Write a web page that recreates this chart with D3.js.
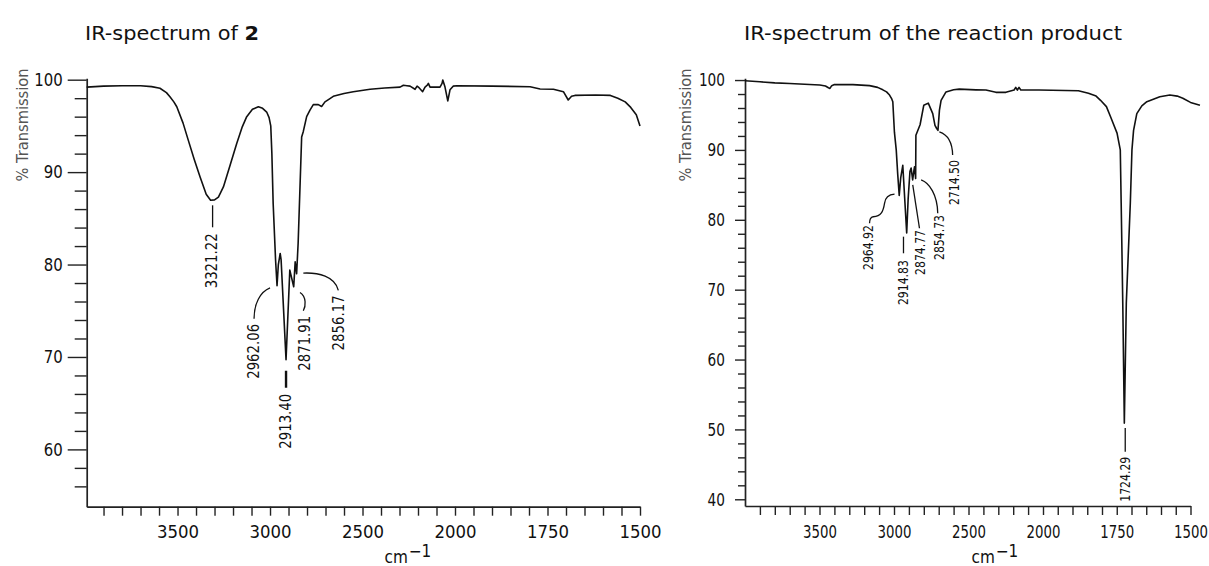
<!DOCTYPE html>
<html><head><meta charset="utf-8">
<script src="https://cdn.jsdelivr.net/npm/d3@7"></script>
<style>
body{margin:0;background:#fff;}
svg{display:block;}
text{font-family:"DejaVu Sans",sans-serif;fill:#111;}
</style></head><body>
<svg id="chart" width="1209" height="566"></svg>
<script>
// ---------- DATA ----------
const wnLeft = [3991,3900,3800,3700,3640,3595,3560,3541,3520,3504,3470,3442,3410,3378,3345,3321.22,3300,3279,3252,3215,3180,3150,3126,3095,3063,3040,3018,3005,2996,2990,2983,2970,2962.06,2955,2945,2940,2913.40,2893,2871.91,2864,2856.17,2848,2829,2820,2802,2784,2766,2739,2721,2703,2680,2658,2600,2550,2459,2380,2297,2279,2260,2243,2216,2205,2198,2175,2162,2150,2144,2135,2110,2081,2070,2066,2054,2039,2027,2010,1995,1900,1797,1770,1734,1707,1694,1685,1676,1620,1580,1560,1540,1525,1510,1500];
const tLeft  = [99.2,99.3,99.35,99.35,99.25,99.07,98.6,98.16,97.6,97.07,95.3,93.46,91.4,89.48,87.6,86.95,87.0,87.3,88.4,90.8,93.1,94.9,96.0,96.8,97.07,96.9,96.5,95.9,95.0,92.0,86.6,80.5,77.7,80.0,81.2,80.5,69.7,79.4,77.6,80.3,79.0,82.3,93.8,94.4,96.0,96.7,97.3,97.3,97.1,97.6,97.9,98.2,98.5,98.7,98.96,99.1,99.2,99.4,99.35,99.3,98.96,99.3,99.2,98.7,99.2,99.4,99.6,99.2,99.2,99.2,99.6,99.97,99.2,97.7,98.9,99.3,99.35,99.3,99.24,99.0,98.96,98.7,97.8,98.2,98.3,98.35,98.3,98.0,97.6,97.0,96.2,95.0];

const wnRight = [4000,3900,3800,3700,3600,3498,3460,3440,3430,3418,3400,3276,3164,3110,3075,3050,3030,3015,3008,2997,2985,2975,2964.92,2955,2941,2914.83,2905,2893,2885,2874.77,2866,2862,2854.73,2853,2825,2800,2770,2740,2725,2714.50,2705,2695,2684,2651,2600,2562,2450,2383,2316,2249,2194,2183,2172,2161,2149,2116,2027,1880,1846,1820,1805,1785,1771,1749,1738,1735,1729.6,1724.29,1717.6,1704,1698.5,1693,1682,1665,1648,1604,1570,1545,1526,1500,1468];
const tRight  = [99.9,99.75,99.6,99.5,99.4,99.3,99.15,98.9,98.8,99.2,99.35,99.35,99.2,98.95,98.6,98.3,97.85,97.3,96.9,92.5,90.0,86.5,83.5,86.0,87.8,78.1,83.0,86.9,87.4,85.7,87.1,87.6,85.9,92.1,93.6,96.4,96.7,95.2,93.5,93.1,92.8,95.7,97.1,98.3,98.6,98.7,98.6,98.57,98.24,98.24,98.57,98.95,98.57,98.95,98.57,98.57,98.57,98.47,98.1,97.7,97.1,96.2,94.75,92.4,90.0,82.4,68.1,50.9,68.1,82.4,90.0,92.8,95.2,96.3,96.9,97.6,97.85,97.7,97.4,96.8,96.4];

const peaksLeft  = [3321.22, 2962.06, 2913.40, 2871.91, 2856.17];
const peakTLeft  = [86.95, 77.7, 69.7, 77.6, 79.0];
const peaksRight = [2964.92, 2914.83, 2874.77, 2854.73, 2714.50, 1724.29];
const peakTRight = [83.5, 78.1, 85.7, 85.9, 93.1, 50.9];

const xTickLabels   = [3500, 3000, 2500, 2000, 1750, 1500];
const yTickLabelsL  = [60, 70, 80, 90, 100];
const yTickLabelsR  = [40, 50, 60, 70, 80, 90, 100];
const titleLeft  = ["IR-spectrum of ", "2"];
const titleRight = "IR-spectrum of the reaction product";
const yTitle = "% Transmission";
const xTitle = ["cm", "\u22121"];

// ---------- LAYOUT ----------
const svg = d3.select("#chart");

// horizontally condense text around its anchor x (keeps true bounding box)
function squeeze(sel, k) {
  sel.each(function () {
    const x0 = +(this.getAttribute("x") || 0);
    this.setAttribute("transform", `translate(${(x0 * (1 - k)).toFixed(2)},0) scale(${k},1)`);
  });
}
function fitLen(sel, len) {
  sel.attr("textLength", len).attr("lengthAdjust", "spacingAndGlyphs");
}

const panels = [
  {
    wn: wnLeft, t: tLeft, peaks: peaksLeft, peakT: peakTLeft, yLabels: yTickLabelsL,
    xDomain: [3991, 2000, 1500], xRange: [86.7, 455, 640],
    yDomain: [53.8, 100.15], yRange: [506.7, 78.3], yMin: 56,
    yMajor: 19, yMinor: 12, yPad: 5, yFont: 18, yK: 0.83,
    xTick: 9, xPad: 10, xFont: 18, xK: 0.92,
    annFont: 16, annLen: 55,
    yTitleX: 22, xTitleX: 408,
    ann: [
      {path: "M2,5 L2,27", dx: 1, dy: 33},
      {path: "M-7,2 C-17,6 -23,18 -23,33", dx: -23.7, dy: 38},
      {path: "M0,11 L0,28", dx: -1, dy: 34, w: 2.4},
      {path: "M6.3,5.8 C13,10 12,20 9.6,24", dx: 10.3, dy: 29},
      {path: "M6.7,-0.7 C21.4,-1.4 38.4,2.6 41.7,16.6", dx: 41.7, dy: 21.6}
    ]
  },
  {
    wn: wnRight, t: tRight, peaks: peaksRight, peakT: peakTRight, yLabels: yTickLabelsR,
    xDomain: [4000, 2000, 1500], xRange: [745, 1043, 1190.5],
    yDomain: [39.04, 100.25], yRange: [506, 78.3], yMin: 40,
    yMajor: 10, yMinor: 7, yPad: 10, yFont: 18, yK: 0.76,
    xTick: 9, xPad: 10, xFont: 18, xK: 0.74,
    annFont: 14, annLen: 45,
    yTitleX: 685, xTitleX: 995,
    ann: [
      {path: "M-4.7,-1.3 C-10,-1 -14,2 -14.7,8 C-16,16 -18,21 -26,21.4 C-28.5,22 -29.7,25 -29.7,28", dx: -31.4, dy: 29.7},
      {path: "M-3.2,3.6 L-3.2,20.2", dx: -3.9, dy: 27},
      {path: "M0.1,5 L6.8,48.3", dx: 6.8, dy: 50},
      {path: "M5.5,1.4 C13.8,4.4 21.8,16.4 22.1,34.7", dx: 23.8, dy: 36.4},
      {path: "M2.8,3.5 C9.8,5.8 15.8,11.8 16.1,26.8", dx: 17.8, dy: 31.8},
      {path: "M0.9,4.9 L0.9,28.6", dx: 0.9, dy: 33.6}
    ]
  }
];

panels.forEach(cfg => {
  const x = d3.scaleLinear().domain(cfg.xDomain).range(cfg.xRange);
  const y = d3.scaleLinear().domain(cfg.yDomain).range(cfg.yRange);
  const g = svg.append("g");

  // x axis
  const xt = d3.range(3900, 1999, -100).concat(d3.range(1950, 1499, -50));
  const xAxis = d3.axisBottom(x).tickValues(xt).tickSize(cfg.xTick).tickSizeOuter(0)
    .tickPadding(cfg.xPad).tickFormat(d => xTickLabels.includes(d) ? String(d) : "");
  const gx = g.append("g").attr("transform", `translate(0,${cfg.yRange[0]})`).call(xAxis);
  gx.attr("font-family", null).attr("font-size", null);
  gx.select(".domain").attr("stroke", "#222").attr("stroke-width", 1.7);
  gx.selectAll(".tick line").attr("stroke", "#222").attr("stroke-width", 1.4);
  const xtx = gx.selectAll(".tick text").attr("font-size", cfg.xFont).attr("fill", "#111");
  squeeze(xtx, cfg.xK);

  // y axis
  const yt = d3.range(cfg.yMin, 100.01, 2);
  const yAxis = d3.axisLeft(y).tickValues(yt).tickSize(cfg.yMajor).tickSizeOuter(0)
    .tickPadding(cfg.yPad).tickFormat(d => cfg.yLabels.includes(d) ? String(d) : "");
  const gy = g.append("g").attr("transform", `translate(${cfg.xRange[0]},0)`).call(yAxis);
  gy.attr("font-family", null).attr("font-size", null);
  gy.select(".domain").attr("stroke", "#222").attr("stroke-width", 1.7);
  gy.selectAll(".tick line").attr("stroke", "#222").attr("stroke-width", 1.4)
    .attr("x2", d => cfg.yLabels.includes(d) ? -cfg.yMajor : -cfg.yMinor);
  const ytx = gy.selectAll(".tick text").attr("font-size", cfg.yFont).attr("fill", "#111");
  squeeze(ytx, cfg.yK);

  // spectrum line
  const pts = cfg.wn.map((w, i) => [w, cfg.t[i]]);
  g.append("path").datum(pts)
    .attr("fill", "none").attr("stroke", "#111").attr("stroke-width", 1.6)
    .attr("stroke-linejoin", "round")
    .attr("d", d3.line().x(d => x(d[0])).y(d => y(d[1])));

  // peak annotations
  cfg.peaks.forEach((p, i) => {
    const px = x(p), py = y(cfg.peakT[i]);
    const a = cfg.ann[i];
    g.append("path").attr("transform", `translate(${px},${py})`)
      .attr("d", a.path).attr("fill", "none").attr("stroke", "#111")
      .attr("stroke-width", a.w || 1.3);
    const tx = g.append("text")
      .attr("transform", `translate(${px + a.dx},${py + a.dy}) rotate(-90)`)
      .attr("text-anchor", "end").attr("dy", "0.36em")
      .attr("font-size", cfg.annFont).text(p.toFixed(2));
    fitLen(tx, cfg.annLen);
  });

  // y title
  const yt2 = g.append("text")
    .attr("transform", `translate(${cfg.yTitleX},125) rotate(-90)`)
    .attr("text-anchor", "middle").attr("dy", "0.36em")
    .attr("font-size", 16).style("fill", "#555").text(yTitle);
  fitLen(yt2, 113);

  // x title
  const xtt = g.append("text").attr("x", cfg.xTitleX).attr("y", 563)
    .attr("text-anchor", "middle").attr("font-size", 17);
  xtt.append("tspan").text(xTitle[0]);
  xtt.append("tspan").attr("dy", -6).attr("dx", 1).text(xTitle[1]);
  squeeze(xtt, 0.9);
});

// titles
const t1 = svg.append("text").attr("x", 85).attr("y", 39.5).attr("font-size", 20);
t1.append("tspan").text(titleLeft[0]);
t1.append("tspan").attr("font-weight", "bold").text(titleLeft[1]);
fitLen(t1, 174);
const t2 = svg.append("text").attr("x", 744).attr("y", 39.5).attr("font-size", 20).text(titleRight);
fitLen(t2, 378);
</script>
</body></html>
